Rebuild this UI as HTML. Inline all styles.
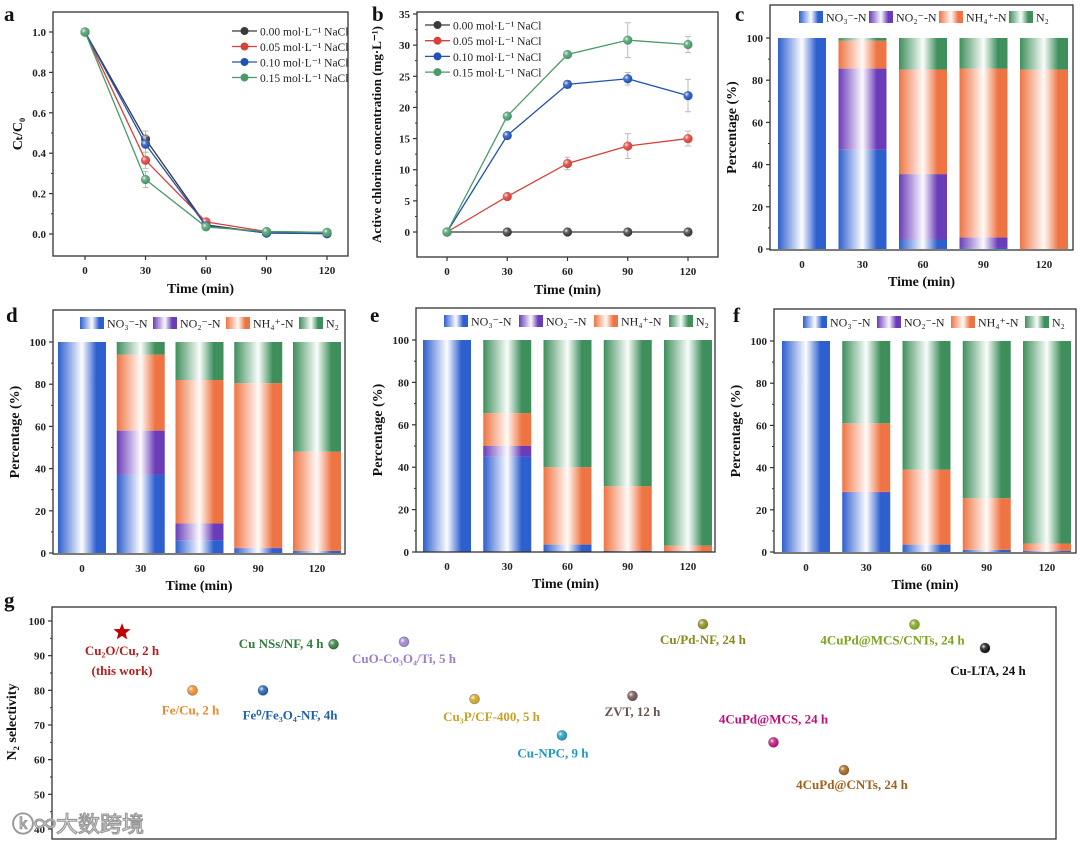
<!DOCTYPE html>
<html><head><meta charset="utf-8">
<style>
html,body{margin:0;padding:0;background:#fff;}
svg{display:block;font-family:"Liberation Serif","Noto Serif CJK SC",serif;}
</style></head>
<body>
<svg id="fig" width="1080" height="841" viewBox="0 0 1080 841" xmlns="http://www.w3.org/2000/svg">
<defs>
 <linearGradient id="g-no3" x1="0" x2="1" y1="0" y2="0"><stop offset="0" stop-color="#2d5fcf"/><stop offset="0.5" stop-color="#fdfdff"/><stop offset="0.8" stop-color="#2d5fcf"/><stop offset="1" stop-color="#2d5fcf"/></linearGradient>
 <linearGradient id="g-no2" x1="0" x2="1" y1="0" y2="0"><stop offset="0" stop-color="#6a3cb8"/><stop offset="0.5" stop-color="#fbf9ff"/><stop offset="0.8" stop-color="#6a3cb8"/><stop offset="1" stop-color="#6a3cb8"/></linearGradient>
 <linearGradient id="g-nh4" x1="0" x2="1" y1="0" y2="0"><stop offset="0" stop-color="#ef7443"/><stop offset="0.5" stop-color="#fffaf8"/><stop offset="0.8" stop-color="#ef7443"/><stop offset="1" stop-color="#ef7443"/></linearGradient>
 <linearGradient id="g-n2" x1="0" x2="1" y1="0" y2="0"><stop offset="0" stop-color="#3f8f5c"/><stop offset="0.5" stop-color="#fafdfb"/><stop offset="0.8" stop-color="#3f8f5c"/><stop offset="1" stop-color="#3f8f5c"/></linearGradient>
 <radialGradient id="shine" cx="0.35" cy="0.35" r="0.6"><stop offset="0" stop-color="#fff" stop-opacity="0.9"/><stop offset="0.4" stop-color="#fff" stop-opacity="0.2"/><stop offset="1" stop-color="#fff" stop-opacity="0"/></radialGradient>
</defs>
</svg>
<script>
// ---------- data ----------
const times = [0, 30, 60, 90, 120];
const seriesNames = ["0.00 mol·L⁻¹ NaCl", "0.05 mol·L⁻¹ NaCl", "0.10 mol·L⁻¹ NaCl", "0.15 mol·L⁻¹ NaCl"];
const aBlack = [1, 0.47, 0.045, 0.005, 0.002];
const aRed   = [1, 0.365, 0.06, 0.012, 0.008];
const aBlue  = [1, 0.445, 0.04, 0.005, 0.002];
const aGreen = [1, 0.27, 0.035, 0.012, 0.008];
const aErr   = [0, 0.04, 0.01, 0.005, 0.005];
const bBlack = [0, 0, 0, 0, 0];
const bRed   = [0, 5.7, 11.0, 13.8, 15.0];
const bBlue  = [0, 15.5, 23.7, 24.6, 21.9];
const bGreen = [0, 18.6, 28.5, 30.8, 30.1];
const bErrRed   = [0, 0.3, 1.0, 2.0, 1.2];
const bErrBlue  = [0, 0.4, 0.6, 1.0, 2.6];
const bErrGreen = [0, 0.4, 0.4, 2.8, 1.3];
const aTicks = [0, 0.2, 0.4, 0.6, 0.8, 1.0];
const bTicks = [0, 5, 10, 15, 20, 25, 30, 35];
const pctTicks = [0, 20, 40, 60, 80, 100];
const species = ["NO₃⁻-N", "NO₂⁻-N", "NH₄⁺-N", "N₂"];
const cNO3 = [100, 47, 4.5, 0.5, 0];
const cNO2 = [0, 38.5, 31, 5, 0];
const cNH4 = [0, 13.2, 49.5, 80, 85];
const cN2  = [0, 1.3, 15, 14.5, 15];
const dNO3 = [100, 37, 6, 2, 1];
const dNO2 = [0, 21, 8, 0.5, 0];
const dNH4 = [0, 36, 68, 78, 47];
const dN2  = [0, 6, 18, 19.5, 52];
const eNO3 = [100, 45, 3.5, 0.5, 0.3];
const eNO2 = [0, 5, 0, 0, 0];
const eNH4 = [0, 15.5, 36.5, 30.5, 2.7];
const eN2  = [0, 34.5, 60, 69, 97];
const fNO3 = [100, 28, 3.5, 1, 0.5];
const fNO2 = [0, 0.5, 0, 0, 0];
const fNH4 = [0, 32.5, 35.5, 24.5, 3.5];
const fN2  = [0, 39, 61, 74.5, 96];
const gLabels = ["Cu₂O/Cu, 2 h","Fe/Cu, 2 h","Fe⁰/Fe₃O₄-NF, 4h","Cu NSs/NF, 4 h","CuO-Co₃O₄/Ti, 5 h","Cu₃P/CF-400, 5 h","Cu-NPC, 9 h","ZVT, 12 h","Cu/Pd-NF, 24 h","4CuPd@MCS, 24 h","4CuPd@CNTs, 24 h","4CuPd@MCS/CNTs, 24 h","Cu-LTA, 24 h"];
const gOrder = [1, 2, 3, 4, 5, 6, 7.24, 8.24, 9.24, 10.24, 11.24, 12.24, 13.24];
const gSelectivity = [96.8, 80, 80, 93.3, 94, 77.5, 67, 78.4, 99.1, 65, 57, 99, 92.2];
const gTicks = [40, 50, 60, 70, 80, 90, 100];

// ---------- helpers ----------
const NS = "http://www.w3.org/2000/svg";
const svg = document.getElementById("fig");
function mk(tag, attrs, parent, txt){
  const e = document.createElementNS(NS, tag);
  for (const k in attrs) e.setAttribute(k, attrs[k]);
  if (txt !== undefined) e.textContent = txt;
  (parent || svg).appendChild(e);
  return e;
}
function lin(d0, d1, r0, r1){ return v => r0 + (v - d0) * (r1 - r0) / (d1 - d0); }

function frame(g, box, name){
  const r = mk("rect", {x:box.x0, y:box.y0, width:box.x1-box.x0, height:box.y1-box.y0, fill:"none", stroke:"#333", "stroke-width":1.3}, g);
  
  
}
function yAxis(g, box, ys, ticks, fmt, name){
  ticks.forEach((t, i) => {
    const y = ys(t);
    mk("line", {x1:box.x0-4, x2:box.x0, y1:y, y2:y, stroke:"#333", "stroke-width":1.2}, g);
    const tx = mk("text", {x:box.x0-7, y:y+4, "text-anchor":"end", "font-size":11, "font-weight":"bold", fill:"#222"}, g, fmt(t));
    
    
    if (i < ticks.length - 1) {
      const ym = ys((t + ticks[i+1]) / 2);
      mk("line", {x1:box.x0-2, x2:box.x0, y1:ym, y2:ym, stroke:"#333", "stroke-width":1}, g);
    }
  });
}
function xAxis(g, box, xs, ticks, name){
  ticks.forEach(t => {
    const x = xs(t);
    mk("line", {x1:x, x2:x, y1:box.y1, y2:box.y1+4, stroke:"#333", "stroke-width":1.2}, g);
    const tx = mk("text", {x:x, y:box.y1+18, "text-anchor":"middle", "font-size":11, "font-weight":"bold", fill:"#222"}, g, String(t));
    
    
  });
  const tt = mk("text", {x:(box.x0+box.x1)/2, y:box.y1+37, "text-anchor":"middle", "font-size":14, "font-weight":"bold", fill:"#111"}, g, "Time (min)");
  
  
}
function yTitle(g, x, y, txt, name, size){
  const t = mk("text", {x:x, y:y, "text-anchor":"middle", "font-size":size||14, "font-weight":"bold", fill:"#111", transform:`rotate(-90 ${x} ${y})`}, g, txt);
  
  
  return t;
}
function panelLetter(x, y, l){
  const t = mk("text", {x:x, y:y, "font-size":21, "font-weight":"bold", fill:"#111"}, svg, l);
  
  
}
function ball(g, x, y, color, r){
  mk("circle", {cx:x, cy:y, r:r, fill:color, stroke:"#00000055", "stroke-width":0.6}, g);
  mk("circle", {cx:x, cy:y, r:r, fill:"url(#shine)"}, g);
}

// ---------- line panels ----------
const lineColors = ["#3a3a3a", "#d8403a", "#1f52b3", "#4a9a68"];
function linePanel(name, box, xs, ys, series, errs, ticks, fmt, ttl, ttlX, ttlSize, legend){
  const g = mk("g", {}, svg);
  
  
  frame(g, box, name);
  yAxis(g, box, ys, ticks, fmt, name);
  xAxis(g, box, xs, times, name);
  yTitle(g, ttlX, (box.y0+box.y1)/2, ttl, name, ttlSize);
  series.forEach((vals, s) => {
    const sg = mk("g", {}, g);
    
    
    const pts = vals.map((v, i) => xs(times[i]) + "," + ys(v)).join(" ");
    mk("polyline", {points:pts, fill:"none", stroke:lineColors[s], "stroke-width":1.3}, sg);
    vals.forEach((v, i) => {
      const e = errs[s] ? errs[s][i] : 0;
      if (e > 0) {
        const x = xs(times[i]);
        mk("path", {d:`M${x},${ys(v-e)}V${ys(v+e)}M${x-3},${ys(v-e)}h6M${x-3},${ys(v+e)}h6`, stroke:"#bbb", "stroke-width":1, fill:"none"}, sg);
      }
      const c = mk("circle", {cx:xs(times[i]), cy:ys(v), r:4.6, fill:lineColors[s]}, sg);
      
      
      mk("circle", {cx:xs(times[i]), cy:ys(v), r:4.6, fill:"url(#shine)"}, sg);
    });
  });
  seriesNames.forEach((n, s) => {
    const y = legend.y + s * legend.dy;
    const lg = mk("g", {}, g);
    
    
    mk("line", {x1:legend.x, x2:legend.x+25, y1:y, y2:y, stroke:lineColors[s], "stroke-width":1.3}, lg);
    mk("circle", {cx:legend.x+12.5, cy:y, r:4, fill:lineColors[s]}, lg);
    mk("text", {x:legend.x+28, y:y+4.5, "font-size":11.5, fill:"#222"}, lg, n);
  });
}
const boxA = {x0:53, x1:348, y0:12, y1:256};
linePanel("panel-a", boxA, lin(0,120,85,327), lin(0,1,234,32),
  [aBlack, aRed, aBlue, aGreen], [aErr, aErr, aErr, aErr], aTicks, v => v.toFixed(1), "Cₜ/C₀", 22, 14,
  {x:232, y:31, dy:15.5});
const boxB = {x0:417, x1:718, y0:12, y1:257};
linePanel("panel-b", boxB, lin(0,120,447,688), lin(0,35,232,14),
  [bBlack, bRed, bBlue, bGreen], [null, bErrRed, bErrBlue, bErrGreen], bTicks, v => String(v),
  "Active chlorine concentration (mg·L⁻¹)", 381, 13, {x:425, y:25, dy:15.7});

// ---------- stacked bar panels ----------
const grads = ["url(#g-no3)", "url(#g-no2)", "url(#g-nh4)", "url(#g-n2)"];
function barPanel(name, box, x0px, x120px, y0px, y100px, layers, leg){
  const g = mk("g", {}, svg);
  
  
  const xs = lin(0, 120, x0px, x120px);
  const ys = lin(0, 100, y0px, y100px);
  const bw = 48;
  times.forEach((t, i) => {
    let acc = 0;
    layers.forEach((arr, k) => {
      const v = arr[i];
      if (v <= 0) return;
      const r = mk("rect", {x:xs(t)-bw/2, y:ys(acc+v), width:bw, height:ys(acc)-ys(acc+v), fill:grads[k]}, g);
      
      
      acc += v;
    });
  });
  frame(g, box, name);
  yAxis(g, box, ys, pctTicks, v => String(v), name);
  times.forEach(t => {
    const tx = mk("text", {x:xs(t), y:box.y1+18, "text-anchor":"middle", "font-size":11, "font-weight":"bold", fill:"#222"}, g, String(t));
    
    
  });
  const tt = mk("text", {x:(box.x0+box.x1)/2, y:box.y1+36, "text-anchor":"middle", "font-size":14, "font-weight":"bold", fill:"#111"}, g, "Time (min)");
  
  
  yTitle(g, box.x0-34, (box.y0+box.y1)/2, "Percentage (%)", name, 14);
  species.forEach((s, k) => {
    const lx = leg.x + k * leg.dx;
    const lg = mk("g", {}, g);
    
    
    mk("rect", {x:lx, y:leg.y-6, width:24, height:12, fill:grads[k]}, lg);
    mk("text", {x:lx+27, y:leg.y+4.5, "font-size":12, fill:"#222"}, lg, s);
  });
}
barPanel("panel-c", {x0:770, x1:1073, y0:5, y1:250}, 802, 1044, 249, 38, [cNO3, cNO2, cNH4, cN2], {x:799, y:17, dx:70});
barPanel("panel-d", {x0:53, x1:345, y0:310, y1:554}, 82, 317, 553, 342, [dNO3, dNO2, dNH4, dN2], {x:80, y:323, dx:73});
barPanel("panel-e", {x0:416, x1:715, y0:308, y1:552}, 447, 688, 552, 340, [eNO3, eNO2, eNH4, eN2], {x:444, y:321, dx:75});
barPanel("panel-f", {x0:774, x1:1076, y0:309, y1:553}, 806, 1047, 552, 341, [fNO3, fNO2, fNH4, fN2], {x:803, y:322, dx:74});

panelLetter(4, 21, "a"); panelLetter(372, 21, "b"); panelLetter(735, 21, "c");
panelLetter(6, 322, "d"); panelLetter(370, 322, "e"); panelLetter(733, 322, "f");
panelLetter(4, 607, "g");

// ---------- panel g ----------
(function(){
  const gColors = ["#c00000","#e8892a","#1f5fae","#2e7d3c","#9b7fcf","#c9a227","#1e9ac0","#6b5350","#8a8a1a","#c0107a","#a0621a","#7ea320","#111111"];
  const labelDx = [0,-2,27,-10,0,17,-9,0,0,0,8,-22,3];
  const labelDy = [23,24,29,4,21,22,22,20,20,-19,19,20,27];
  const anchors = ["middle","middle","middle","end","middle","middle","middle","middle","middle","middle","middle","middle","middle"];
  const box = {x0:52, x1:1056, y0:607, y1:839};
  const g = mk("g", {}, svg);
  
  
  const xs = lin(1, 13.24, 122, 985);
  const ys = lin(40, 100, 829, 621);
  frame(g, box, "panel-g");
  yAxis(g, box, ys, gTicks, v => String(v), "panel-g");
  yTitle(g, 16, 722, "N₂ selectivity", "panel-g", 14);
  gLabels.forEach((lab, i) => {
    const x = xs(gOrder[i]), y = ys(gSelectivity[i]);
    const pg = mk("g", {}, g);
    
    
    if (i === 0) {
      const R = 9, r = 3.8; let d = "";
      for (let k = 0; k < 10; k++) {
        const a = -Math.PI/2 + k*Math.PI/5, rr = k%2 ? r : R;
        d += (k ? "L" : "M") + (x + rr*Math.cos(a)).toFixed(1) + "," + (y + rr*Math.sin(a)).toFixed(1);
      }
      mk("path", {d:d+"Z", fill:"#c00000"}, pg);
    } else {
      ball(pg, x, y, gColors[i], 5);
    }
    const t = mk("text", {x:x+labelDx[i], y:y+labelDy[i], "text-anchor":anchors[i], "font-size":13, "font-weight":"bold", fill:i===0?"#b52020":gColors[i]}, pg, lab);
    
    
    if (i === 0) {
      const t2 = mk("text", {x:x, y:y+43, "text-anchor":"middle", "font-size":13, "font-weight":"bold", fill:"#b52020"}, pg, "(this work)");
      
      
    }
  });
  const wm = mk("text", {x:12, y:832, "font-size":22, "font-family":"'Noto Sans CJK SC',sans-serif", fill:"#fff", stroke:"#999", "stroke-width":1.2}, svg, "ⓚ∞大数跨境");
  
  
})();
</script>
</body></html>
